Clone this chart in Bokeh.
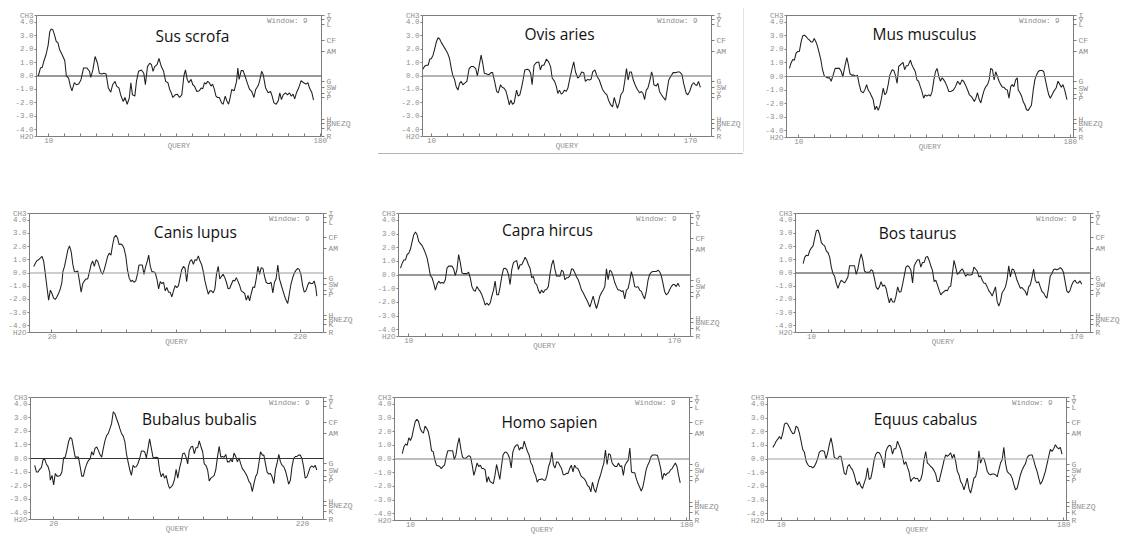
from bokeh.plotting import figure
from bokeh.models import FixedTicker, Span, Label, LinearAxis, Range1d, NumeralTickFormatter
from bokeh.layouts import row, column, Spacer
from bokeh.embed import file_html
from bokeh.resources import INLINE

# ---------------- data ----------------
NAMES = ["Sus scrofa", "Ovis aries", "Mus musculus", "Canis lupus", "Capra hircus",
         "Bos taurus", "Bubalus bubalis", "Homo sapien", "Equus cabalus"]
WINDOW = 9
Y_TICKS = [-4.5, -4, -3, -2, -1, 0, 1, 2, 3, 4, 4.5]
Y_END_LABELS = {4.5: "CH3", -4.5: "H2O"}
AA_TICKS = [4.5, 4.2, 3.8, 2.65, 1.85, -0.4, -0.85, -1.3, -1.6, -3.2, -3.5, -3.9, -4.5]
AA_LABELS = ["I", "V", "L", "CF", "AM", "G", "SW", "Y", "P", "H", "BNEZQ", "K", "R"]
X_END_LABELS = [(10, 180), (10, 170), (10, 180), (20, 220), (10, 170),
                (10, 170), (20, 220), (10, 180), (10, 180)]
X_TICK_STEP = [10, 10, 10, 20, 10, 10, 20, 10, 10]

SUS_X = [3.4, 4.8, 5.9, 6.9, 8.3, 9.6, 10.6, 11.5, 12.5, 13.5,
         14.6, 15.8, 16.8, 18.3, 20, 21, 22.4, 23.5, 24.5, 26,
         27.2, 28.7, 30.1, 31.8, 33.8, 35.5, 36.3, 37.6, 39, 40.5,
         41.7, 43.2, 44.6, 45.9, 47.3, 48.8, 50, 51.5, 52.5, 54,
         55, 56.6, 57.7, 59.1, 60.4, 61.4, 62.4, 63.9, 64.9, 66.2,
         68, 69.5, 70.5, 71.8, 73.2, 74.3, 75.3, 76.3, 77.8, 79,
         80.5, 81.9, 83.2, 84.6, 85.7, 86.7, 87.7, 89.2, 90.4, 91.9,
         93.3, 94.6, 95.6, 96.7, 97.7, 99.1, 100.2, 101.2, 102.7, 104.3,
         105.4, 106.4, 107.5, 108.5, 109.5, 110.5, 111.6, 112.6, 113.7, 114.7,
         115.7, 116.8, 118.2, 119.2, 120.5, 121.5, 122.6, 123.6, 124.6, 126.1,
         127.6, 128.4, 129.2, 130.5, 131.7, 132.9, 134, 135, 135.8, 137.1,
         138.5, 139.6, 141, 142, 143.3, 144.3, 145.8, 147.4, 148.9, 149.9,
         151, 152.4, 153.7, 154.7, 155.7, 156.8, 158.2, 159.5, 160.7, 161.9,
         163, 164, 165.1, 166.5, 168, 169.6, 171.1, 172.3, 173.3, 174.8,
         175.8]
SUS_Y = [0.0, 0.6, 0.65, 1.1, 1.6, 2.3, 3.3, 3.5, 3.45, 3.1,
         2.6, 2.45, 1.95, 1.6, 1.15, 0, -0.15, -0.75, -1.1, -0.5,
         -0.65, -0.6, -0.3, 0.6, 0.6, 0.35, -0.1, 0.45, 1.45, 0.95,
         0.2, 0.15, 0.2, 0.15, -0.9, -1.2, -0.65, -0.4, -0.75, -0.9,
         -1.4, -1.9, -1.6, -2.1, -1.65, -0.5, -1.4, -1.5, -0.4, 0.35,
         0.45, 0.2, -0.65, 0.7, 0.95, 0.85, 0.35, 0.7, 0.85, 1.3,
         0.7, 0.35, -0.4, -0.5, -1.0, -1.25, -1.6, -1.4, -1.35, -1.6,
         -1.4, 0, 0.45, -0.25, -0.5, -0.25, -0.65, -0.75, -1.15, -1.1,
         -0.9, -0.95, -0.5, -0.6, -0.4, -0.5, -0.75, -0.6, -1.0, -1.5,
         -1.6, -1.6, -2.0, -2.1, -1.5, -1.85, -2.1, -1.6, -1.0, -1.1,
         -0.4, 0.6, -0.25, 0.4, 0.4, 0, -0.4, -0.75, -1.0, -1.15,
         -1.6, -1.0, -0.75, -0.4, 0.35, 0.1, -0.9, -1.25, -1.15, -1.5,
         -2.0, -2.1, -1.85, -1.25, -1.75, -1.4, -1.25, -1.4, -1.25, -1.5,
         -1.35, -1.7, -1.25, -0.9, -0.35, -0.5, -0.6, -0.5, -0.9, -1.25,
         -1.8]

OVIS_X = [4.7, 5.9, 6.9, 8.0, 9.0, 10, 11, 12, 13.1, 14.1,
          15.1, 16.1, 17.6, 18.6, 20, 21.2, 22.3, 23.3, 24.3, 25.3,
          26.4, 27.4, 28.4, 29.4, 30.4, 31.9, 33.3, 34.5, 36, 37.4,
          38.4, 39.4, 40.7, 41.7, 42.7, 44.2, 45.6, 46.8, 47.8, 49.3,
          50.3, 51.3, 52.7, 53.8, 54.8, 56, 57, 58.1, 59.1, 60.1,
          61.1, 62.6, 63.6, 64.6, 65.6, 66.6, 67.7, 69.3, 70.3, 71.3,
          72.2, 73.4, 74.8, 76.3, 77.3, 78.3, 79.5, 81, 82.4, 83.6,
          84.6, 86.1, 87.1, 88.1, 89.1, 90.2, 91.2, 92.2, 93.2, 94.3,
          95.3, 96.7, 97.9, 99, 100.4, 101.4, 102.8, 104.1, 105.1, 106.5,
          107.5, 108.6, 109.6, 111, 112.2, 113.7, 114.7, 115.7, 117.1, 118.4,
          119.4, 120.8, 121.9, 122.9, 123.9, 124.9, 126, 127, 128.4, 129.4,
          130.5, 131.5, 132.5, 133.5, 134.7, 135.8, 137.2, 138.6, 139.7, 140.7,
          141.7, 142.7, 143.7, 145, 146, 146.8, 147.4, 148.9, 149.9, 150.9,
          152.1, 153.6, 154.6, 155.6, 156.6, 158, 159.3, 160.7, 162.1, 163.4,
          164.8, 165.8, 167.3, 168.3, 169.5, 170.9, 172, 173, 174, 175,
          176.1]
OVIS_Y = [0.5, 0.75, 0.8, 0.8, 1.25, 1.3, 1.55, 2.0, 2.55, 2.85,
          2.75, 2.5, 2.2, 2.0, 1.7, 1.3, 0.55, 0, -0.25, -0.8,
          -1.05, -0.55, -0.4, -0.65, -0.55, -0.4, 0.55, 0.7, 0.7, 0.55,
          0, 0.7, 1.55, 0.95, 0.2, 0.15, 0.1, 0.25, 0.25, -0.55,
          -1.15, -1.25, -0.65, -0.85, -0.9, -1.1, -1.55, -2.15, -1.8, -2.1,
          -2.0, -1.05, -1.5, -1.4, -0.9, -0.3, 0.45, 0.5, 0.45, 0.2,
          -0.65, 0.8, 1.0, 1.05, 0.45, 0.8, 0.8, 1.25, 1.05, 0.7,
          -0.15, -0.4, -0.75, -1.3, -1.05, -1.35, -1.25, -1.05, -1.15, -0.9,
          -0.3, 0.45, 1.05, 0.3, -0.15, -0.05, 0.3, 0.25, -0.4, -0.25,
          -0.3, -0.25, 0.3, 0.45, 0, -0.3, -0.65, -1.0, -1.25, -1.4,
          -1.8, -2.15, -2.3, -1.6, -2.0, -2.4, -2.0, -1.4, -1.15, -0.4,
          0.55, -0.3, 0.3, 0.3, -0.3, -0.65, -1.0, -1.25, -1.15, -1.3,
          -1.75, -1.05, -0.9, -0.3, 0.3, -0.05, -0.65, -0.75, -0.55, -1.15,
          -1.4, -1.65, -1.8, -1.05, -0.3, 0, 0.25, 0.25, 0.3, 0.3,
          0.1, -0.55, -1.25, -1.4, -1.15, -0.65, -0.5, -0.65, -0.7, -0.4,
          -0.85]

MUS_X = [4.2, 5.2, 6.3, 7.3, 8.3, 9.4, 10.4, 11.5, 12.5, 13.5,
         14.6, 15.6, 16.6, 17.7, 18.7, 19.7, 20.8, 21.8, 22.9, 23.9,
         24.9, 26, 27.2, 28.2, 29.3, 30.3, 31.4, 32.8, 34.3, 35.5,
         36.7, 37.6, 38.6, 40.1, 41.1, 42.1, 43.2, 44.6, 45.9, 46.7,
         47.9, 49, 50.4, 51.5, 52.5, 53.5, 54.6, 55.6, 56.6, 57.7,
         58.7, 59.8, 60.8, 61.8, 62.9, 63.9, 64.9, 66, 67, 68.5,
         69.5, 70.5, 71.6, 72.6, 73.6, 75.3, 76.3, 77.4, 78.4, 79.9,
         80.9, 81.9, 83, 84, 85, 86.1, 87.1, 88.2, 89.2, 90.2,
         91.3, 92.5, 93.5, 94.6, 95.6, 96.6, 97.7, 98.7, 99.8, 100.8,
         101.8, 102.9, 103.9, 105.4, 106.8, 108.1, 109.5, 111, 112.2, 113.2,
         114.3, 115.7, 116.8, 117.8, 118.8, 119.9, 120.9, 121.9, 123, 124,
         125, 126.1, 127.1, 128.2, 129.2, 130.2, 131.3, 132.3, 133.3, 134.4,
         135.4, 136.5, 137.5, 138.5, 139.6, 140.6, 141.6, 142.7, 143.7, 144.7,
         145.8, 146.8, 147.4, 148.5, 149.5, 150.5, 151.6, 152.6, 153.7, 154.7,
         155.7, 156.8, 157.8, 158.8, 159.9, 160.9, 162.4, 163.4, 164.4, 165.5,
         166.5, 167.5, 168.6, 169.6, 171.1, 172.3, 173.3, 174.4, 175.4, 176.5,
         177.9]
MUS_Y = [0.6, 1.0, 1.25, 1.2, 1.7, 1.85, 1.85, 2.55, 3.0, 3.05,
         2.95, 2.8, 2.7, 2.55, 2.55, 2.8, 2.55, 2.2, 1.7, 1.2,
         0.5, 0.05, -0.05, -0.1, -0.1, -0.35, 0.05, 0.6, 0.6, 0.6,
         0.35, -0.05, 0.6, 1.4, 0.85, 0.2, 0.1, 0.1, 0, 0.1,
         -0.6, -1.1, -1.2, -0.95, -0.6, -1.0, -1.2, -1.45, -1.7, -2.45,
         -2.2, -2.5, -2.15, -1.6, -0.85, -1.35, -1.2, -0.6, 0.1, 0.5,
         0.45, 0.1, -0.5, 0.75, 0.85, 1.05, 0.5, 0.8, 0.8, 1.2,
         0.85, 0.6, 0.35, -0.25, -0.35, -0.75, -1.1, -1.6, -1.35, -1.45,
         -1.35, -1.45, -1.1, -0.25, 0.35, 0.6, 0, -0.35, -0.1, -0.25,
         -0.45, -0.75, -1.1, -1.1, -1.0, -0.75, -0.35, -0.6, -0.25, -0.35,
         -0.6, -1.0, -1.35, -1.45, -1.6, -1.85, -1.6, -1.2, -1.7, -1.95,
         -1.45, -1.0, -0.75, -0.6, -0.25, 0.6, 0.5, -0.25, 0.35, 0,
         -0.35, -0.6, -0.8, -0.8, -0.95, -1.0, -1.6, -0.75, -0.6, -0.75,
         -0.25, -0.1, -1.0, -1.2, -1.45, -1.85, -2.1, -2.45, -2.5, -2.3,
         -2.1, -1.0, -0.25, 0.1, 0.35, 0.45, 0.45, 0.35, -0.25, -0.85,
         -1.35, -1.6, -1.35, -1.1, -0.85, -0.35, -0.55, -0.8, -0.6, -1.0,
         -1.7]

CANIS_X = [5.3, 6.7, 8, 9.3, 10.7, 12, 13.3, 14.7, 16, 17.3,
           18.7, 20, 21.3, 22.7, 24, 25.3, 26.7, 28, 28.8, 30.1,
           31.5, 32.8, 34.1, 35.5, 36.8, 38.1, 39.5, 40.8, 42.1, 43.5,
           44.8, 46.1, 47.5, 48.8, 50.1, 51.5, 52.8, 54.1, 55.5, 56.8,
           58.1, 59.5, 60.8, 62.1, 63.5, 64.8, 66.1, 67.5, 68.8, 70.1,
           71.5, 72.8, 74.1, 75.5, 76.8, 78.1, 79.5, 80.8, 82.1, 83.5,
           84.8, 86.1, 87.5, 88.8, 90.1, 91.5, 92.8, 94.1, 95.5, 96.8,
           97.9, 99.2, 100.5, 101.9, 103.2, 104.5, 105.9, 107.2, 108.5, 109.9,
           111.2, 112.5, 113.9, 115.2, 116.5, 117.9, 119.2, 120.5, 121.9, 123.2,
           124.5, 125.9, 127.2, 128.5, 129.9, 131.2, 132.5, 133.9, 135.2, 136.5,
           137.9, 139.2, 140.5, 141.9, 143.2, 144.5, 145.9, 147.2, 148.5, 149.9,
           151.2, 152.5, 153.9, 155.2, 156.5, 157.9, 159.2, 160.5, 161.9, 163.2,
           164.5, 165.9, 167.2, 168.5, 169.9, 171.2, 172.5, 173.9, 175.2, 176.5,
           177.9, 179.2, 180.5, 181.9, 183.2, 184.5, 185.9, 187.2, 188.5, 189.9,
           191.2, 192.5, 193.9, 195.2, 196.5, 197.9, 199.2, 200.5, 201.9, 203.2,
           204.5, 205.9, 207.2, 208.5, 209.9, 211.2, 212.5, 213.9, 215.2, 216.5,
           217.9, 219.2, 220.5, 221.9, 223.2, 224.5, 225.9, 227.2, 228.5, 229.9,
           231.2, 232.5, 233.3]
CANIS_Y = [0.5, 0.75, 0.95, 1.0, 1.15, 1.25, 0.9, -0.1, -1.1, -2.05,
           -1.3, -1.55, -1.9, -2.0, -1.8, -1.55, -1.2, -0.7, 0.1, 0.5,
           1.15, 1.75, 2.05, 1.6, 0.65, 0.1, 0.1, 0.15, -0.6, -1.45,
           -0.8, -0.6, -0.45, -0.45, 0.05, 0.65, 0.9, 0.5, 1.0, 0.9,
           0.5, 0.1, -0.1, 0.25, 0.75, 1.25, 1.5, 1.35, 2.1, 2.7,
           2.85, 2.65, 2.15, 2.2, 2.1, 1.85, 1.25, 0.25, -0.35, -0.65,
           -0.55, -0.7, -0.6, -0.1, 0.6, 0.6, 0.6, -0.1, 0.5, 0.9,
           1.35, 0.5, 0.1, 0.1, 0.0, -0.45, -1.2, -0.65, -0.8, -0.7,
           -1.35, -1.1, -1.45, -1.45, -1.8, -1.35, -0.95, -1.1, -0.95, -0.35,
           0.25, 0.5, 0.35, -0.65, 0.5, 0.9, 1.0, 0.65, 1.0, 0.95,
           1.3, 0.9, 0.65, 0.1, -0.6, -1.1, -1.6, -1.35, -1.35, -1.5,
           -1.2, -0.1, 0.5, -0.45, -0.25, -0.1, -0.35, -0.7, -1.2, -1.15,
           -0.85, -0.55, -0.6, -0.35, -0.65, -0.95, -1.35, -1.45, -1.55, -2.05,
           -1.7, -2.1, -1.55, -1.05, -1.1, -0.45, 0.5, -0.1, 0.4, 0.35,
           -0.25, -0.7, -0.8, -0.8, -0.7, -1.5, -0.7, -0.45, 0.6, -0.45,
           -0.85, -1.3, -1.7, -2.05, -2.3, -1.55, -0.85, -0.35, 0.0, 0.2,
           0.35, 0.25, -0.1, -0.95, -1.45, -1.35, -0.95, -0.7, -0.8, -0.8,
           -0.6, -1.1, -1.75]

CAPRA_X = list(range(5, 174))
CAPRA_Y = [0.5, 0.85, 1.1, 1.1, 1.5, 1.6, 1.9, 2.45, 2.95, 3.15,
           2.95, 2.45, 2.3, 2.15, 1.9, 1.6, 1.25, 0.65, -0.05, -0.2,
           -0.6, -1.1, -0.7, -0.45, -0.6, -0.55, -0.6, -0.35, 0.5, 0.65,
           0.65, 0.65, 0.45, -0.05, 0.4, 1.5, 0.9, 0.15, 0.1, 0.1,
           0.1, 0.2, -0.2, -0.85, -1.1, -1.2, -0.85, -1.05, -1.2, -1.45,
           -1.8, -2.2, -2.05, -2.2, -2.05, -1.55, -1.1, -0.45, -1.45, -1.45,
           -0.85, -0.1, 0.45, 0.5, 0.4, 0.05, -0.7, 0.4, 0.9, 1.0,
           1.05, 0.4, 0.75, 0.75, 1.0, 1.3, 1.1, 0.75, 0.5, -0.2,
           -0.1, -0.6, -0.7, -1.1, -1.35, -1.1, -1.3, -1.1, -1.05, -0.85,
           0.05, 0.75, 1.1, 0.4, -0.1, -0.05, -0.1, 0.35, 0.25, -0.35,
           -0.2, -0.2, -0.05, 0.45, 0.4, 0.15, -0.15, -0.35, -0.7, -1.1,
           -1.3, -1.55, -1.8, -2.05, -2.35, -1.95, -1.55, -2.05, -2.45, -2.05,
           -1.55, -1.3, -1.1, -0.85, 0.45, -0.35, 0.35, 0.25, -0.1, -0.55,
           -0.85, -1.1, -1.1, -1.2, -1.15, -1.75, -1.1, -1.0, -0.45, 0.25,
           -0.2, -0.85, -0.9, -0.85, -1.1, -1.2, -1.5, -1.75, -1.2, -0.4,
           0.05, 0.2, 0.25, 0.25, 0.25, 0.35, 0.25, -0.05, -0.6, -1.2,
           -1.45, -1.35, -1.1, -0.85, -0.7, -0.7, -0.85, -0.6, -0.85]

BOS_X = list(range(5, 174))
BOS_Y = [0.7, 1.2, 1.35, 1.3, 1.7, 1.9, 2.05, 2.65, 3.2, 3.25,
         2.9, 2.3, 2.15, 2.05, 1.65, 1.55, 1.2, 0.45, -0.05, -0.25,
         -0.8, -1.15, -0.8, -0.55, -0.65, -0.75, -0.55, -0.3, 0.55, 0.55,
         0.55, 0.55, -0.1, 0.3, 0.95, 1.45, 0.95, 0.15, 0.05, 0.05,
         0.05, 0.25, 0.15, -0.4, -1.05, -1.25, -1.05, -0.65, -1.0, -0.9,
         -1.15, -1.75, -2.25, -1.9, -2.2, -2.2, -1.75, -1.05, -1.45, -1.4,
         -0.85, -0.2, 0.45, 0.55, 0.45, 0.2, -0.75, 0.55, 0.8, 1.0,
         1.0, 0.45, 0.8, 0.8, 1.2, 1.25, 0.95, 0.55, 0.2, -0.65,
         -0.55, -0.9, -1.3, -1.65, -1.5, -1.4, -1.3, -1.35, -1.05, -1.0,
         -0.05, 0.95, 0.45, -0.1, 0, 0.2, 0.3, 0.05, -0.25, -0.1,
         -0.15, -0.15, -0.1, 0.45, 0.3, 0.15, -0.3, -0.2, -0.55, -0.75,
         -0.8, -1.05, -1.35, -1.5, -1.75, -1.4, -1.05, -2.15, -2.5, -2.15,
         -1.5, -1.3, -1.05, -0.5, 0.55, -0.3, 0.3, 0.25, -0.1, -0.55,
         -0.85, -1.15, -1.1, -1.25, -1.4, -1.7, -1.05, -0.9, -0.35, 0.3,
         -0.55, -0.75, -0.65, -1.05, -1.4, -1.5, -1.75, -1.9, -1.15, -0.25,
         -0.05, 0.25, 0.3, 0.25, 0.3, 0.4, 0.3, 0.05, -0.65, -1.35,
         -1.5, -1.3, -0.9, -0.65, -0.55, -0.75, -0.75, -0.6, -0.85]

BUBALUS_X = [4.8, 6.2, 7.5, 8.8, 10.2, 11.5, 12.8, 14.1, 15.5, 16.8,
             17.3, 18.7, 20, 21.3, 22.7, 24, 25.3, 26.6, 28, 29.3,
             30.6, 32, 33.3, 34.6, 36, 37.3, 38.6, 39.9, 41.3, 42.6,
             43.9, 45.3, 46.6, 47.9, 49.3, 50.6, 51.9, 53.2, 54.6, 55.9,
             57.2, 58.6, 59.9, 61.2, 62.6, 63.9, 65.2, 66.5, 67.9, 69.2,
             70.5, 71.9, 73.2, 74.5, 75.9, 77.2, 78.5, 79.8, 81.2, 82.5,
             83.8, 85.2, 86.5, 87.8, 89.1, 90.5, 91.8, 93.1, 94.5, 95.8,
             97.1, 98.5, 99.8, 101.1, 102.4, 103.8, 105.1, 106.4, 107.8, 109.1,
             110.4, 111.8, 113.1, 114.4, 115.7, 117.1, 118.4, 119.7, 121.1, 122.4,
             123.7, 125.1, 126.4, 127.7, 129, 130.4, 131.7, 133, 134.4, 135.7,
             137, 138.4, 139.7, 141, 142.3, 143.7, 145, 146.3, 147.7, 149,
             150.3, 151.6, 153, 154.3, 155.6, 157, 158.3, 159.6, 161, 162.3,
             163.6, 164.9, 166.3, 167.6, 168.9, 170.3, 171.6, 172.9, 174.3, 175.6,
             176.9, 178.2, 179.6, 180.9, 182.2, 183.6, 184.9, 186.2, 187.6, 188.9,
             190.2, 191.5, 192.9, 194.2, 195.5, 196.9, 198.2, 199.5, 200.9, 202.2,
             203.5, 204.8, 206.2, 207.5, 208.8, 210.2, 211.5, 212.8, 214.2, 215.5,
             216.8, 218.1, 219.5, 220.8, 222.1, 223.5, 224.8, 226.1, 227.4, 228.8,
             230.1, 231.4]
BUBALUS_Y = [-0.5, -1.0, -1.0, -0.8, -0.65, -0.1, -0.05, -0.4, -0.6, -1.0,
             -1.6, -1.25, -1.95, -1.1, -1.3, -1.3, -1.25, -1.0, 0.05, 0.1,
             0.6, 1.25, 1.55, 1.45, 0.75, 0.1, 0.1, 0.1, -0.6, -1.3,
             -1.3, -0.75, -0.4, -0.15, -0.05, 0.5, 0.25, 0.75, 0.85, 0.6,
             0.3, 0.1, 0.75, 1.3, 1.7, 1.85, 2.2, 2.55, 3.45, 3.3,
             2.95, 2.6, 2.2, 1.85, 1.65, 1.25, 0.35, -0.25, -0.85, -1.25,
             -0.5, -0.65, -0.6, -0.35, 0, 0.55, 0.55, 0.5, 0.05, 0.75,
             1.45, 0.75, 0.1, 0.05, 0.1, 0.05, -0.85, -1.35, -1.1, -1.45,
             -1.25, -1.85, -2.2, -2.1, -1.95, -1.55, -0.8, -1.45, -0.75, -0.25,
             0.35, 0.4, 0.1, -0.4, 0.6, 0.85, 0.9, 0.35, 0.8, 0.8,
             1.3, 0.85, 0.5, -0.4, -0.5, -0.85, -1.65, -1.45, -1.35, -1.25,
             -0.8, 0.1, 0.9, 0.1, 0.15, 0.1, 0.3, -0.25, -0.25, -0.05,
             -0.25, 0.4, 0.15, -0.25, 0.05, -0.4, -0.75, -0.9, -1.1, -1.35,
             -1.7, -1.85, -2.45, -1.85, -1.35, -1.1, -0.35, 0.5, 0.25, 0.25,
             -0.4, -1.0, -1.15, -1.1, -1.35, -1.85, -0.8, -0.35, 0.3, -0.25,
             -0.5, -0.6, -0.9, -1.35, -1.9, -1.6, -0.6, 0, 0.15, 0.15,
             0.25, 0.25, 0, -0.6, -1.45, -1.35, -1.0, -0.65, -0.55, -0.65,
             -0.5, -0.85]

HOMO_X = list(range(5, 60)) + list(range(61, 116)) + list(range(117, 177))
HOMO_Y = [0.4, 0.9, 1.1, 1.0, 1.55, 1.35, 1.65, 2.25, 2.75, 2.9,
          2.75, 2.25, 2.0, 1.9, 2.4, 2.25, 2.0, 1.4, 0.6, 0.55,
          -0.05, -0.45, -0.5, -0.55, -0.7, -0.55, -0.45, 0.15, 0.6, 0.6,
          0.6, 0.6, -0.05, 0.3, 1.05, 1.55, 0.75, 0.15, 0.05, 0.05,
          0.15, 0.25, 0.15, -0.45, -1.2, -0.8, -0.3, -0.55, -0.45, -0.7,
          -0.7, -0.8, -1.7, -1.3, -1.65, -1.8, -1.2, -0.4, -0.95, -1.5,
          -0.55, 0.3, 0.5, 0.5, 0.35, 0.05, -0.65, 0.5, 0.85, 1.0,
          1.05, 0.65, 0.85, 0.75, 1.3, 0.9, 0.55, 0.3, -0.25, -0.45,
          -0.95, -1.2, -1.7, -1.5, -1.5, -1.45, -1.55, -1.55, -1.2, -0.55,
          -0.2, 0.5, -0.45, -0.65, -0.2, -0.25, -0.5, -0.7, -1.15, -1.15,
          -1.05, -1.05, -0.7, -0.45, -0.95, -0.45, -0.65, -0.7, -0.95, -1.25,
          -1.45, -1.65, -1.95, -2.05, -2.4, -1.7, -2.2, -2.45, -1.95, -1.5,
          -1.15, -0.7, -0.3, 0.65, -0.4, 0.4, 0.3, -0.25, -0.45, -0.55,
          -0.55, -0.3, -0.55, -0.5, -1.2, -0.45, -0.25, -0.1, 0.8, -0.95,
          -1.0, -1.0, -1.45, -1.8, -2.05, -2.35, -2.05, -1.45, -0.8, -0.45,
          -0.2, 0.15, 0.3, 0.3, 0.3, 0.25, -0.2, -0.7, -1.5, -1.05,
          -1.2, -1.05, -1.0, -0.8, -0.7, -0.5, -0.3, -0.55, -1.2, -1.75]

EQUUS_X = list(range(5, 180))
EQUUS_Y = [0.85, 1.05, 1.3, 1.45, 1.65, 1.45, 1.9, 2.55, 2.65, 2.55,
           2.3, 2.05, 1.85, 1.9, 2.4, 2.3, 1.9, 1.3, 0.7, 0.5,
           -0.15, -0.4, -0.55, -0.55, -0.65, -0.55, -0.3, 0.05, 0.5, 0.6,
           0.6, 0.55, 0, 0.45, 1.05, 1.55, 0.95, 0.1, 0.05, 0.0,
           0.2, 0.2, -0.4, -1.05, -1.15, -0.55, -0.4, -0.65, -0.8, -1.15,
           -1.65, -1.9, -1.65, -2.0, -2.15, -1.75, -1.4, -0.65, -1.5, -1.4,
           -0.8, -0.05, 0.35, 0.5, 0.45, 0.25, -0.1, -0.65, 0.55, 0.85,
           1.0, 0.95, 0.35, 0.75, 0.75, 1.3, 1.0, 0.7, 0.2, -0.4,
           -0.2, -0.6, -0.95, -1.65, -1.45, -1.35, -1.45, -1.4, -1.65, -1.5,
           -1.05, -0.05, 0.55, -0.3, -0.4, -0.55, -0.65, -0.85, -1.1, -1.65,
           -1.65, -1.15, -0.65, -0.1, 0.3, 0.2, 0.3, 0.45, 0.05, 0.35,
           -0.15, -0.9, -1.15, -1.65, -1.85, -2.25, -1.85, -1.4, -2.15, -2.5,
           -2.0, -1.4, -1.3, -0.8, 0.6, -0.3, 0.05, 0.05, -0.35, -0.9,
           -1.1, -1.15, -1.1, -1.1, -1.15, -1.3, -0.8, -0.3, -0.05, 0.85,
           -0.3, -0.9, -1.05, -1.15, -1.4, -1.85, -2.25, -2.15, -1.65, -1.15,
           -0.8, -0.55, -0.35, 0.1, 0.25, 0.3, 0.3, -0.1, -0.55, -0.9,
           -1.4, -1.85, -1.65, -1.3, -0.9, -0.35, 0.2, 0.7, 0.55, 0.75,
           1.05, 0.85, 0.75, 0.85, 0.35]

SERIES_X = [SUS_X, OVIS_X, MUS_X, CANIS_X, CAPRA_X, BOS_X, BUBALUS_X, HOMO_X, EQUUS_X]
SERIES_Y = [SUS_Y, OVIS_Y, MUS_Y, CANIS_Y, CAPRA_Y, BOS_Y, BUBALUS_Y, HOMO_Y, EQUUS_Y]

# ---------------- layout / style ----------------
MONO = "Liberation Mono"
TXT_GREY = "#8e8e8e"
FRAME_GREY = "#7d7d7d"

# frame = (L, T, R, B) of the plot frame on the page; borders = (left, top, right, bottom)
# xr = x data range at the frame edges
PANELS = [
    dict(frame=(36, 14, 323, 136), borders=(28, 6, 30, 16), xr=(2.3, 180.8),
         title=(193, 35), zero="#333333"),
    dict(frame=(422, 15, 713, 136), borders=(28, 7, 30, 16), xr=(4.5, 183.0),
         title=(560, 33), zero="#6a6a6a"),
    dict(frame=(786, 15, 1075, 137), borders=(28, 7, 30, 16), xr=(2.35, 182.0),
         title=(925, 33), zero="#8a8a8a"),
    dict(frame=(29, 210, 325, 332), borders=(29, 10, 30, 16), xr=(1.9, 238.7),
         title=(196, 229), zero="#9a9a9a"),
    dict(frame=(398, 213, 692, 336), borders=(28, 13, 30, 16), xr=(3.8, 179.6),
         title=(548, 229), zero="#333333"),
    dict(frame=(795, 209, 1092, 332), borders=(28, 9, 30, 16), xr=(0.4, 178.3),
         title=(918, 229), zero="#333333"),
    dict(frame=(30, 396, 325, 519), borders=(30, 10, 30, 16), xr=(1.4, 236.8),
         title=(200, 418), zero="#333333"),
    dict(frame=(394, 397, 691, 520), borders=(28, 11, 30, 16), xr=(0.2, 181.7),
         title=(550, 421), zero="#7a7a7a"),
    dict(frame=(767, 397, 1068, 520), borders=(28, 11, 30, 16), xr=(1.8, 181.7),
         title=(926, 418), zero="#a0a0a0"),
]


def style_axis(ax, size, tick_in, tick_out, standoff):
    ax.major_tick_in = tick_in
    ax.major_tick_out = tick_out
    ax.minor_tick_line_color = None
    ax.axis_line_color = None
    ax.major_tick_line_color = FRAME_GREY
    ax.major_label_standoff = standoff
    ax.major_label_text_font = MONO
    ax.major_label_text_font_size = size
    ax.major_label_text_color = TXT_GREY


def build(i):
    c = PANELS[i]
    L, T, R, B = c["frame"]
    bl, bt, br, bb = c["borders"]
    x0, x1 = c["xr"]
    fw, fh = R - L, B - T
    ppx = fw / (x1 - x0)
    ppy = fh / 9.0

    def to_data(px, py):
        return x0 + (px - L) / ppx, 4.5 - (py - T) / ppy

    p = figure(width=bl + fw + br, height=bt + fh + bb,
               x_range=Range1d(x0, x1), y_range=Range1d(-4.5, 4.5),
               output_backend="svg", toolbar_location=None, title=None,
               min_border_left=bl, min_border_right=br,
               min_border_top=bt, min_border_bottom=bb)
    p.background_fill_color = "white"
    p.border_fill_color = "white"
    p.outline_line_color = FRAME_GREY
    p.outline_line_width = 1
    p.xgrid.visible = False
    p.ygrid.visible = False

    # bottom axis: ticks every step, labels only at the ends, caption "QUERY"
    lo, hi = X_END_LABELS[i]
    step = X_TICK_STEP[i]
    ticks = list(range(lo, hi + 1, step))
    xa = p.xaxis[0]
    xa.ticker = FixedTicker(ticks=ticks)
    xa.major_label_overrides = {t: "" for t in ticks if t not in (lo, hi)}
    style_axis(xa, "7.5px", 3, 0, 1)
    xa.axis_label = "QUERY"
    xa.axis_label_standoff = -4
    xa.axis_label_text_font = MONO
    xa.axis_label_text_font_size = "7.5px"
    xa.axis_label_text_font_style = "normal"
    xa.axis_label_text_color = TXT_GREY

    # left axis
    ya = p.yaxis[0]
    ya.ticker = FixedTicker(ticks=Y_TICKS)
    ya.formatter = NumeralTickFormatter(format="0.0")
    ya.major_label_overrides = dict(Y_END_LABELS)
    style_axis(ya, "7.5px", 0, 2, 1)

    # right axis: amino-acid hydropathy scale
    ra = LinearAxis(ticker=FixedTicker(ticks=AA_TICKS),
                    major_label_overrides=dict(zip(AA_TICKS, AA_LABELS)))
    style_axis(ra, "8px", 0, 3, 2)
    p.add_layout(ra, "right")

    # zero line and the hydropathy curve
    p.add_layout(Span(location=0, dimension="width", line_color=c["zero"], line_width=1))
    p.line(SERIES_X[i], SERIES_Y[i], line_color="#1f1f1f", line_width=1.05)

    # species name
    tx, ty = to_data(*c["title"])
    p.add_layout(Label(x=tx, y=ty, text=NAMES[i], text_font="Open Sans",
                       text_font_size="15.5px", text_color="#111111",
                       text_align="center", text_baseline="middle"))
    # window annotation
    wx, wy = to_data(R - 14, T + 5.5)
    p.add_layout(Label(x=wx, y=wy, text="Window: %d" % WINDOW, text_font=MONO,
                       text_font_size="7.5px", text_color=TXT_GREY,
                       text_align="right", text_baseline="middle"))
    return p


P = [build(i) for i in range(9)]


def x0_of(i):
    return PANELS[i]["frame"][0] - PANELS[i]["borders"][0]


def x1_of(i):
    return PANELS[i]["frame"][2] + PANELS[i]["borders"][2]


def top_of(i):
    return PANELS[i]["frame"][1] - PANELS[i]["borders"][1]


def bottom_of(i):
    return PANELS[i]["frame"][3] + PANELS[i]["borders"][3]


def hline(width, color):
    return Spacer(width=width, height=1, styles={"background-color": color})


# row 1 (with the thin pale edge right of the second panel, as in the reference)
row1 = row(Spacer(width=x0_of(0)), P[0],
           Spacer(width=x0_of(1) - x1_of(0)), P[1],
           Spacer(width=1, height=bottom_of(2) - top_of(2) - 1,
                  styles={"background-color": "#e4e4e4"}),
           Spacer(width=x0_of(2) - x1_of(1) - 1), P[2])
row1_bottom = max(bottom_of(i) for i in (0, 1, 2))
edge = row(Spacer(width=378), hline(365, "#b4b4b4"))

row2 = row(Spacer(width=x0_of(3)), P[3],
           Spacer(width=x0_of(4) - x1_of(3)), P[4],
           Spacer(width=x0_of(5) - x1_of(4)), P[5])
row2_bottom = max(bottom_of(i) for i in (3, 4, 5))

row3 = row(Spacer(width=x0_of(6)), P[6],
           Spacer(width=x0_of(7) - x1_of(6)), P[7],
           Spacer(width=x0_of(8) - x1_of(7)), P[8])

layout = column(Spacer(height=top_of(0)), row1, edge,
                Spacer(height=top_of(3) - row1_bottom - 1), row2,
                Spacer(height=top_of(6) - row2_bottom), row3)
open("out.html", "w").write(file_html(layout, INLINE, "Hydropathy plots"))
